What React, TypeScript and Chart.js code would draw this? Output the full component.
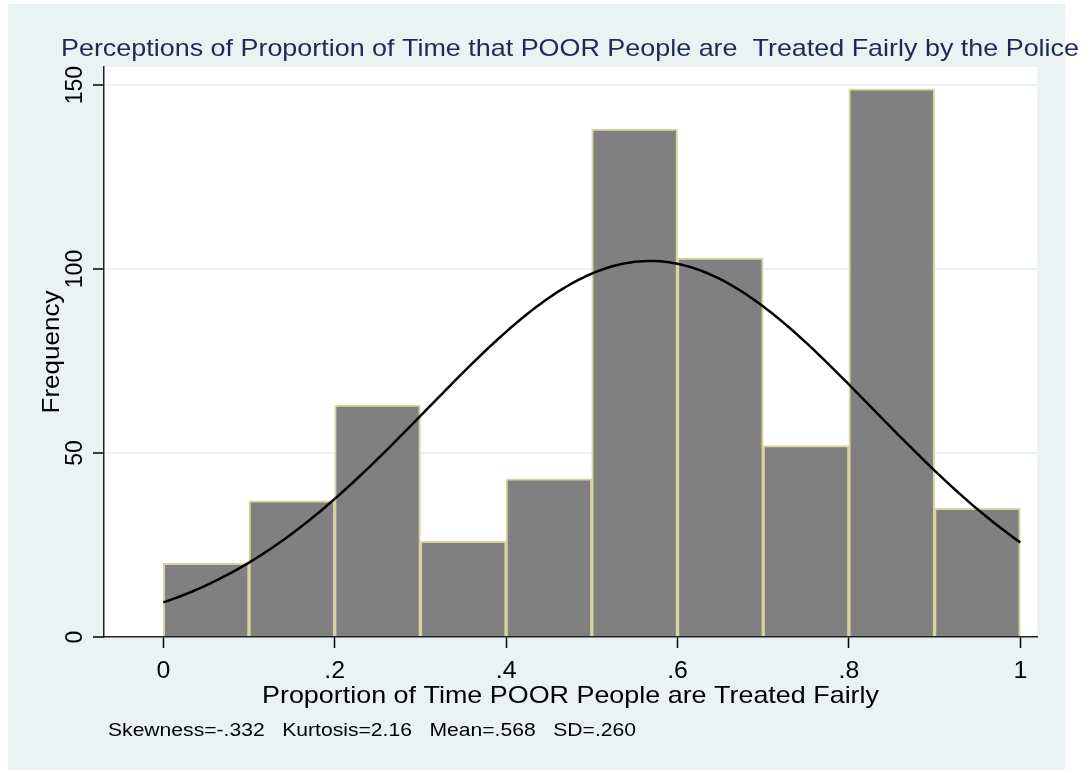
import { useEffect, useRef } from "react";
import { Chart, registerables } from "chart.js";

Chart.register(...registerables);

// Histogram bins (left edge) and counts
const BIN_STARTS = [0, 0.1, 0.2, 0.3, 0.4, 0.5, 0.6, 0.7, 0.8, 0.9];
const BIN_WIDTH = 0.1;
const FREQUENCIES = [20, 37, 63, 26, 43, 138, 103, 52, 149, 35];

// Summary statistics shown in the note; the normal curve uses mean and SD
const SKEWNESS = -0.332;
const KURTOSIS = 2.16;
const MEAN = 0.568;
const SD = 0.26;

const X_TICKS = [0, 0.2, 0.4, 0.6, 0.8, 1];
const X_TICK_LABELS = ["0", ".2", ".4", ".6", ".8", "1"];
const Y_TICKS = [0, 50, 100, 150];
const Y_TICK_LABELS = ["0", "50", "100", "150"];

const TITLE =
  "Perceptions of Proportion of Time that POOR People are  Treated Fairly by the Police";
const X_TITLE = "Proportion of Time POOR People are Treated Fairly";
const Y_TITLE = "Frequency";
const fmt = (v: number, d: number) => v.toFixed(d).replace(/^(-?)0\./, "$1.");
const NOTE = `Skewness=${fmt(SKEWNESS, 3)}   Kurtosis=${fmt(KURTOSIS, 2)}   Mean=${fmt(
  MEAN,
  3
)}   SD=${fmt(SD, 3)}`;

const FONT = '"Liberation Sans", Arial, sans-serif';
const PANEL_BG = "#EAF2F3";

// Normal density scaled to counts per bin, evaluated across the data range
function normalCurve() {
  const n = FREQUENCIES.reduce((a, b) => a + b, 0);
  const scale = (n * BIN_WIDTH) / (SD * Math.sqrt(2 * Math.PI));
  const pts: { x: number; y: number }[] = [];
  for (let i = 0; i <= 200; i++) {
    const x = i / 200;
    const z = (x - MEAN) / SD;
    pts.push({ x, y: scale * Math.exp(-0.5 * z * z) });
  }
  return pts;
}

// Draws text stretched along its run so that it spans the given width
function wideText(
  ctx: CanvasRenderingContext2D,
  text: string,
  x: number,
  y: number,
  width: number,
  align: "left" | "center",
  rotate = false
) {
  const natural = ctx.measureText(text).width;
  const sx = width / natural;
  ctx.save();
  ctx.translate(x, y);
  if (rotate) ctx.rotate(-Math.PI / 2);
  ctx.scale(sx, 1);
  ctx.textAlign = align;
  ctx.fillText(text, 0, 0);
  ctx.restore();
}

const decorations = {
  id: "decorations",
  beforeDraw(chart: any) {
    const { ctx, chartArea } = chart;
    ctx.save();
    ctx.fillStyle = "#FFFFFF";
    ctx.fillRect(0, 0, chart.width, chart.height);
    ctx.fillStyle = PANEL_BG;
    ctx.fillRect(8, 4, 1057, 766);
    ctx.fillStyle = "#FFFFFF";
    ctx.fillRect(
      chartArea.left,
      chartArea.top,
      chartArea.right - chartArea.left,
      chartArea.bottom - chartArea.top
    );
    ctx.restore();
  },
  afterDraw(chart: any) {
    const { ctx, chartArea } = chart;
    const xs = chart.scales.x;
    const ys = chart.scales.y;
    ctx.save();
    ctx.textBaseline = "alphabetic";

    // Title
    ctx.fillStyle = "#1E2A55";
    ctx.font = `24px ${FONT}`;
    wideText(ctx, TITLE, 61, 56, 1018, "left");

    ctx.fillStyle = "#000000";

    // X tick labels
    ctx.font = `23px ${FONT}`;
    X_TICKS.forEach((v, i) => {
      const w = ctx.measureText(X_TICK_LABELS[i]).width * 1.08;
      wideText(ctx, X_TICK_LABELS[i], xs.getPixelForValue(v), 678, w, "center");
    });

    // Y tick labels, rotated
    Y_TICKS.forEach((v, i) => {
      ctx.save();
      ctx.translate(82, ys.getPixelForValue(v));
      ctx.rotate(-Math.PI / 2);
      ctx.textAlign = "center";
      ctx.fillText(Y_TICK_LABELS[i], 0, 0);
      ctx.restore();
    });

    // Axis titles
    ctx.font = `24px ${FONT}`;
    wideText(ctx, X_TITLE, (chartArea.left + chartArea.right) / 2, 703, 617, "center");
    ctx.font = `23px ${FONT}`;
    wideText(ctx, Y_TITLE, 59, (chartArea.top + chartArea.bottom) / 2, 123, "center", true);

    // Note
    ctx.font = `19px ${FONT}`;
    wideText(ctx, NOTE, 108, 736, 528, "left");

    ctx.restore();
  },
};

export default function App() {
  const canvasRef = useRef<HTMLCanvasElement | null>(null);

  useEffect(() => {
    if (!canvasRef.current) return;
    const bars = BIN_STARTS.map((s, i) => ({ x: s + BIN_WIDTH / 2, y: FREQUENCIES[i] }));

    const chart = new Chart(canvasRef.current, {
      type: "bar",
      data: {
        datasets: [
          {
            type: "line",
            data: normalCurve(),
            borderColor: "#000000",
            borderWidth: 2.5,
            pointRadius: 0,
            tension: 0,
            fill: false,
            order: 0,
          } as any,
          {
            type: "bar",
            data: bars,
            backgroundColor: "#808080",
            borderColor: "#D8D3A0",
            borderWidth: 2,
            barPercentage: 1,
            categoryPercentage: 1,
            order: 1,
          } as any,
        ],
      },
      options: {
        responsive: false,
        animation: false,
        devicePixelRatio: 1,
        layout: { padding: { top: 67, right: 50, bottom: 0, left: 0 } },
        plugins: {
          legend: { display: false },
          tooltip: { enabled: false },
          title: { display: false },
        },
        scales: {
          x: {
            type: "linear",
            offset: false,
            min: -0.0692,
            max: 1.0195,
            afterBuildTicks: (s: any) => {
              s.ticks = X_TICKS.map((v) => ({ value: v }));
            },
            afterFit: (s: any) => {
              s.height = 133;
            },
            ticks: { display: false },
            grid: {
              offset: false,
              drawOnChartArea: false,
              drawTicks: true,
              tickLength: 11,
              tickColor: "#000000",
              tickWidth: 1.5,
            },
            border: { color: "#222222", width: 1.5 },
          },
          y: {
            type: "linear",
            min: 0,
            max: 154.9,
            afterBuildTicks: (s: any) => {
              s.ticks = Y_TICKS.map((v) => ({ value: v }));
            },
            afterFit: (s: any) => {
              s.width = 104;
            },
            ticks: { display: false },
            grid: {
              color: (c: any) => (c.tick && c.tick.value === 0 ? "rgba(0,0,0,0)" : PANEL_BG),
              lineWidth: 2,
              drawTicks: true,
              tickLength: 11,
              tickColor: "#000000",
              tickWidth: 1.5,
            },
            border: { color: "#222222", width: 1.5 },
          },
        },
      } as any,
      plugins: [decorations],
    });

    return () => chart.destroy();
  }, []);

  return (
    <div style={{ position: "absolute", left: 0, top: 0, width: 1087, height: 770 }}>
      <canvas ref={canvasRef} width={1087} height={770} style={{ display: "block" }} />
    </div>
  );
}
